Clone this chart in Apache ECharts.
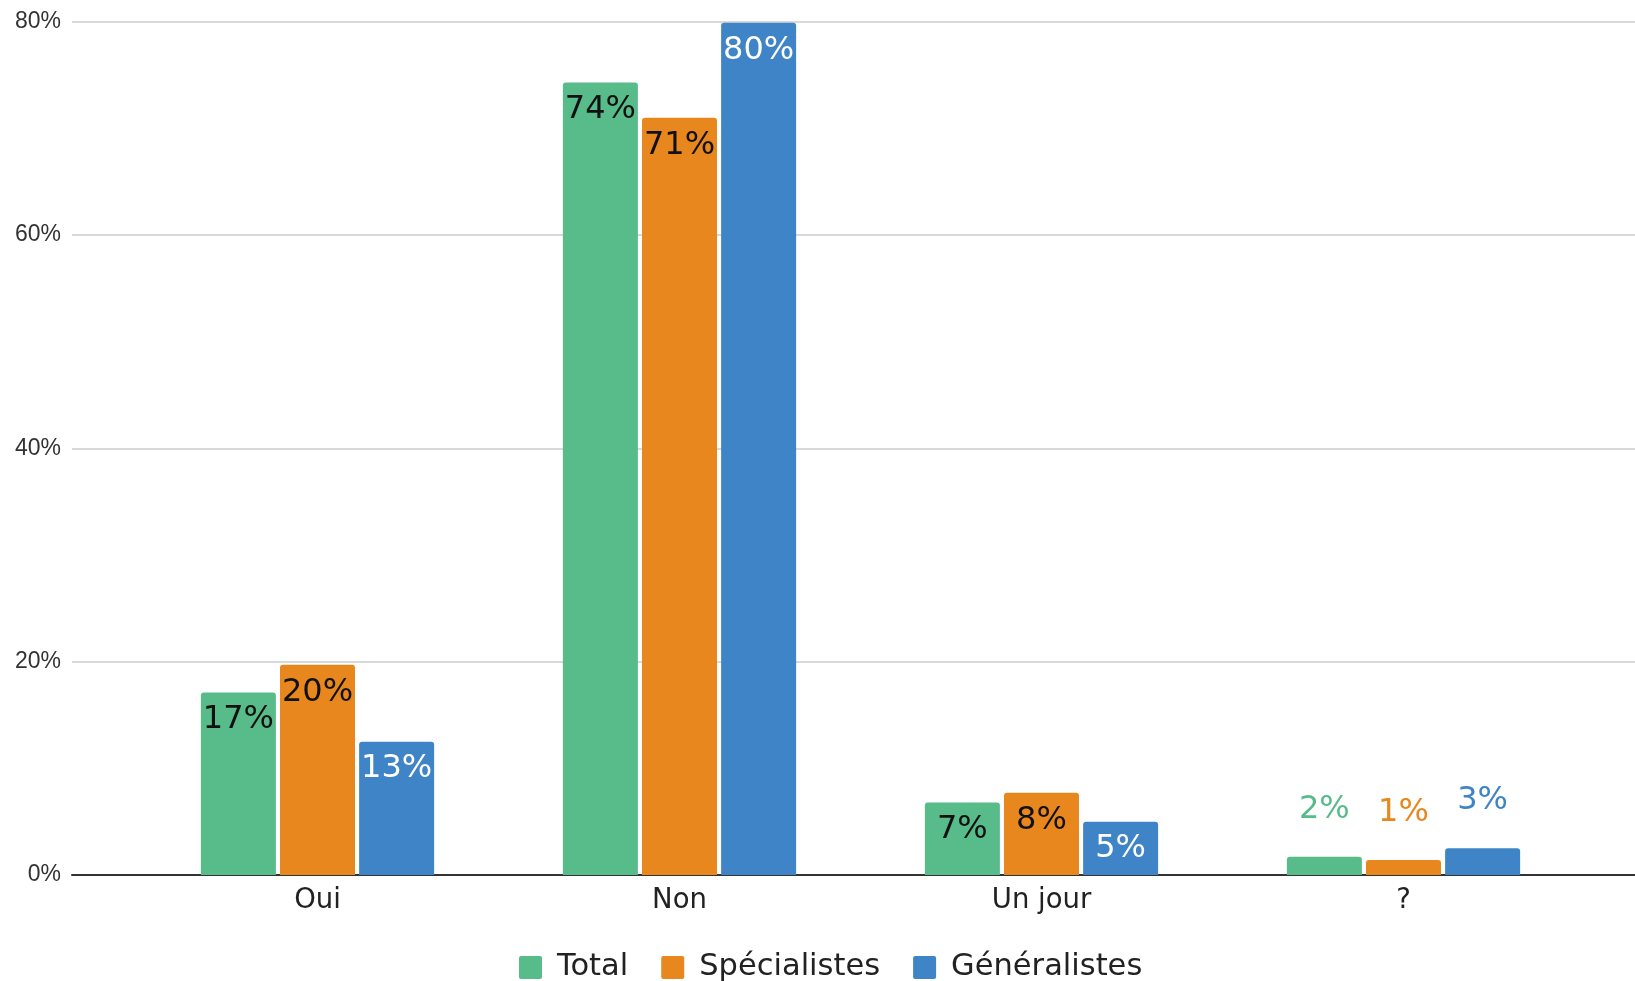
<!DOCTYPE html>
<html>
<head>
<meta charset="utf-8">
<script src="https://cdn.jsdelivr.net/npm/echarts@6/dist/echarts.min.js"></script>
<style>
html,body{margin:0;padding:0;background:#fff;}
#chart{width:1635px;height:981px;}
</style>
</head>
<body>
<div id="chart"></div>
<script>
const categories = ['Oui', 'Non', 'Un jour', '?'];
const seriesNames = ['Total', 'Spécialistes', 'Généralistes'];
const totalValues = [17.1, 74.3, 6.8, 1.7];
const specialistesValues = [19.7, 71.0, 7.7, 1.4];
const generalistesValues = [12.5, 79.9, 5.0, 2.5];
const yTicks = [0, 20, 40, 60, 80];

const colors = ['#57bb8a', '#e8871e', '#3e84c6'];
const insideLabelColors = ['#111', '#111', '#fff'];
const outsideThreshold = 3;

function buildSeries(name, values, idx) {
  return {
    name: name,
    type: 'bar',
    xAxisIndex: 1,
    yAxisIndex: 1,
    barWidth: 75,
    barGap: '5.5%',
    itemStyle: { color: colors[idx], borderRadius: [3, 3, 0, 0] },
    data: values.map(v => {
      const outside = v < outsideThreshold;
      return {
        value: v,
        label: outside
          ? { position: 'top', distance: 31.5, color: colors[idx] }
          : { position: 'insideTop', distance: 11.5, color: insideLabelColors[idx] }
      };
    }),
    label: {
      show: true,
      fontFamily: 'DejaVu Sans',
      fontSize: 32,
      formatter: p => Math.round(p.value) + '%'
    }
  };
}

const chart = echarts.init(document.getElementById('chart'));
chart.setOption({
  animation: false,
  textStyle: { fontFamily: 'DejaVu Sans' },
  legend: {
    data: seriesNames,
    left: 519,
    top: 952,
    padding: 0,
    icon: 'path://M2,0 H21 Q23,0 23,2 V21 Q23,23 21,23 H2 Q0,23 0,21 V2 Q0,0 2,0 Z',
    itemWidth: 23,
    itemHeight: 23,
    itemGap: 33,
    textStyle: { fontFamily: 'DejaVu Sans', fontSize: 30.5, color: '#222', padding: [0, 0, 0, 10] }
  },
  grid: [
    { left: 72, right: 0, top: 21.7, bottom: 106 },
    { left: 136.5, right: 50.5, top: 21.7, bottom: 106 }
  ],
  xAxis: [
    {
      gridIndex: 0, type: 'category', data: [''],
      axisLine: { show: true, lineStyle: { color: '#333', width: 2 } },
      axisTick: { show: false }, axisLabel: { show: false }
    },
    {
      gridIndex: 1, type: 'category', data: categories,
      axisLine: { show: false }, axisTick: { show: false },
      axisLabel: { fontFamily: 'DejaVu Sans', fontSize: 27.5, color: '#222', margin: 12 }
    }
  ],
  yAxis: [
    {
      gridIndex: 0, type: 'value', min: yTicks[0], max: yTicks[yTicks.length - 1], interval: 20,
      axisLine: { show: false }, axisTick: { show: false },
      axisLabel: { fontFamily: 'Liberation Sans', fontSize: 23, color: '#333', margin: 11, formatter: '{value}%' },
      splitLine: { lineStyle: { color: '#cccccc', width: 1.5 } }
    },
    {
      gridIndex: 1, type: 'value', min: yTicks[0], max: yTicks[yTicks.length - 1], show: false
    }
  ],
  series: [
    buildSeries(seriesNames[0], totalValues, 0),
    buildSeries(seriesNames[1], specialistesValues, 1),
    buildSeries(seriesNames[2], generalistesValues, 2)
  ]
});
</script>
</body>
</html>
